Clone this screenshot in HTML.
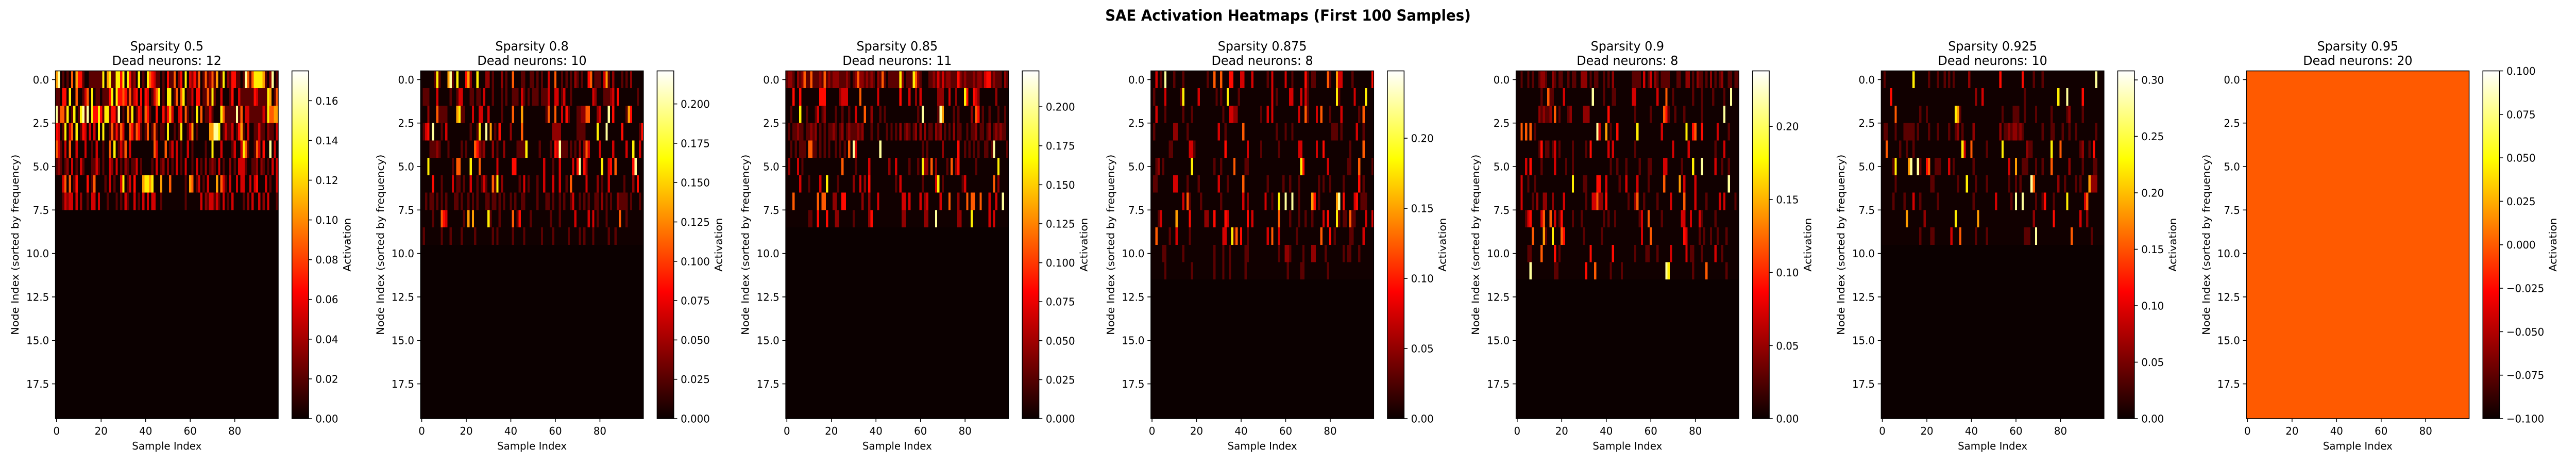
<!DOCTYPE html>
<html><head><meta charset="utf-8"><style>
html,body{margin:0;padding:0;background:#fff;width:100%;height:100%;overflow:hidden;}
svg{display:block;width:100vw;height:100vh;font-family:"DejaVu Sans","Liberation Sans",sans-serif;}
</style></head><body>
<svg id="fig" viewBox="0 0 5250 900" preserveAspectRatio="none" xmlns="http://www.w3.org/2000/svg">
<defs>
<linearGradient id="hotGrad" x1="0" y1="1" x2="0" y2="0">
<stop offset="0" stop-color="rgb(10,0,0)"/><stop offset="0.365079" stop-color="rgb(255,0,0)"/>
<stop offset="0.746032" stop-color="rgb(255,255,0)"/><stop offset="1" stop-color="rgb(255,255,255)"/>
</linearGradient>
</defs>
<text x="2625" y="40" text-anchor="middle" font-size="29" font-weight="bold">SAE Activation Heatmaps (First 100 Samples)</text>
</svg>
<script>
// ---- data ----
const sparsityLabels = ["0.5","0.8","0.85","0.875","0.9","0.925","0.95"];
const deadNeurons = [12,10,11,8,8,10,20];
const vmins = [0,0,0,0,0,0,-0.1];
const vmaxs = [0.175,0.221,0.223,0.248,0.238,0.308,0.1];
const cbTicks = [
  [0,0.02,0.04,0.06,0.08,0.10,0.12,0.14,0.16],
  [0,0.025,0.05,0.075,0.1,0.125,0.15,0.175,0.2],
  [0,0.025,0.05,0.075,0.1,0.125,0.15,0.175,0.2],
  [0,0.05,0.1,0.15,0.2],
  [0,0.05,0.1,0.15,0.2],
  [0,0.05,0.1,0.15,0.2,0.25,0.3],
  [-0.1,-0.075,-0.05,-0.025,0,0.025,0.05,0.075,0.1]
];
const cbDecimals = [2,3,3,2,2,2,3];
const yTickValues = [0,2.5,5,7.5,10,12.5,15,17.5];
const xTickValues = [0,20,40,60,80];
// activation level code per cell (digit -> fraction of vmax)
const levelFrac = [0,0.01,0.12,0.2,0.3,0.38,0.5,0.6,0.72,0.9];
const Z = "0000000000000000000000000000000000000000000000000000000000000000000000000000000000000000000000000000";

const p1Rows = [
["7912121617","5521122222","2817822885","8185231812","1865422121","5226135181","4352612623","6271281325","5221296268","8887213912"],
["2215518116","1124618122","1222581855","6526245151","5412468121","8812616812","2415512262","8211411125","1142222225","4222287126"],
["9266281281","2892918558","5288255291","2172812541","6521151152","5741145162","1218161224","2111862222","2926144222","2224286677"],
["5412814618","1254141418","1811262526","4116526521","2612621221","8112128112","4712111117","7998124224","1257214112","2422132214"],
["6421416114","1114112141","1211618124","2614111111","1111641116","1241412114","1211111211","8111411112","4114862112","6415119141"],
["2321231412","1421112242","1211431412","1321224121","1112141231","3121412141","1214121312","3214121131","2144421122","3132121414"],
["1114616125","1111512611","1121412114","8124151117","8878111711","1611111121","7612412141","1171642141","1414411414","5111412114"],
["1112434414","1311214414","1112111212","1421141214","1414411211","1111111121","1111141324","4242141214","1111213141","1413141112"],
Z,Z,Z,Z,Z,Z,Z,Z,Z,Z,Z,Z];

const p2Rows = [
["1111112821","1179218111","5731181113","3121113121","1611122112","2121211411","6112121213","2121156122","2147213111","2121311111"],
["1222111411","1112112441","1122122141","1121112121","1222142121","2221222411","4412411211","1111111431","1122234151","1111111211"],
["1113111622","2211117822","1114114411","4111112111","1611171111","1111112611","6114152111","2233661113","4111915111","1127511111"],
["1245191112","1411111111","1121128119","1712151111","3111161111","1111111113","3331111111","2222111118","1119111111","5111111125"],
["1111222321","1121111121","2111653231","1131211311","1112222811","1112111121","5492221212","1313641111","4111114111","1141181141"],
["1118111111","1111216611","1181116111","1111411111","1551111111","1111141112","1141111141","5915311111","1811451611","1111159111"],
["1111151112","1111412212","1141121242","1162813111","1111214121","1121141114","1141121611","1111411113","1211411111","1211131511"],
["1121221212","1211122121","1212121112","2122121211","2121122111","1121112212","1121211241","1212121122","1312121132","2221211121"],
["1111121116","5411111112","1717111111","8211121111","1612511112","1111111121","1121111114","1111141412","1112111116","1121111111"],
["1211111112","1112111121","1111211111","1121211111","1211112111","1111211112","1111112111","1212111211","1111211211","1111111111"],
Z,Z,Z,Z,Z,Z,Z,Z,Z,Z];

const p3Rows = [
["2332132362","2622232623","2333222321","2363323232","1326212222","2831222863","2111223242","4233222532","3222323324","5523222132"],
["1115115111","1111155511","1111344411","1116111111","1411111111","1511141131","4111111133","3114113111","8511543111","1111311111"],
["1121118112","1112412311","1121121121","1411161131","1121211111","1111111112","1911111129","7111121211","1113165121","1211121121"],
["1212232212","2323121212","2321231232","2232311121","1211121212","1312321231","3131221323","1212131221","1212231221","2312323221"],
["1121212221","6622121212","1121212161","9411111111","1191111111","1111111111","1212111111","3111111511","2121212112","2129111112"],
["1311141211","1111111111","1111161111","1211111411","1111113114","1111121112","1833161311","1121613511","1111121111","1111181111"],
["1111114111","2111141181","1112111111","3114131511","1111111112","1411111111","1211111481","2111111112","4111111111","1116131111"],
["1116111111","1111616611","1331155111","1111311311","1411111111","1144141111","4134111114","1116111311","1616611611","1411411911"],
["1111111111","2211511151","1133111111","2111111351","1111111111","1133111111","1133111911","1111111331","1118111111","1414111111"],
Z,Z,Z,Z,Z,Z,Z,Z,Z,Z,Z];

const p4Rows = [
["1141219111","2111211111","1111121161","1611155111","4411141111","1121411111","4112111115","2122111116","2117441111","2111111115"],
["1211114111","1112811111","1411111112","1211811112","1111111111","1111412111","1144111414","2111111111","1118211111","1411118111"],
["1141112111","1111211121","1111111111","1121144331","1111111112","1141411111","1111114116","2111416111","2111141111","1112161111"],
["1211111111","3311112111","1111111111","4112111111","1611111111","1111112111","2112111111","1111111111","1222121111","1141121111"],
["1111111122","1111111442","1111111111","1115111111","1114111112","1111111211","1111114411","1111411511","1111111112","1111161111"],
["1123121111","1111111181","1111111121","1211111611","1122111111","1111111111","1111111851","1111111114","1111111122","1116111112"],
["1221111111","4411112111","1211111111","4111211111","1611111111","1121111112","1121112111","1111121211","2111112111","1115121111"],
["1111111111","1111416211","1121111111","1211111111","1413111111","1411211811","9119112111","1175121111","1117915111","1451222111"],
["1112411111","1711111511","1111331151","1115411111","1115141111","1111111611","1121112112","1121111415","1118212216","2211114114"],
["1161111121","1411111211","1111111111","1144118261","5112111111","1141611411","1111121111","1111116111","5121111112","2111141111"],
["1111122111","1111211111","1111111121","1121121111","1122111111","1111111211","3321111121","1133111121","1111112122","1112111111"],
["1111112111","1111111121","1111111121","1121121111","1121111111","1111111111","1211111221","1111111112","1111111111","1111111111"],
Z,Z,Z,Z,Z,Z,Z,Z];

const p5Rows = [
["1121121211","2332113212","2112122113","3312122112","1213111111","1122221412","4132122221","1122113312","1322121312","1231122122"],
["1111111111","1211622111","1411111111","1111911112","1112211111","1144111111","1114111611","2111111112","1112111121","1112119111"],
["1111111111","3232231612","1112311111","3331111111","1511111111","1112111111","2111116521","1211121111","1112111111","1119111111"],
["1161616121","1111111111","1111111111","1111119411","7121151111","1111811111","1111141111","1111118115","6115111111","4111121111"],
["1111111111","2512212412","1111121111","1215111111","1414111111","1112111111","1111111111","4111111411","1111111112","1114111111"],
["1111415111","1211111411","1121121111","1111111111","1121121112","1111121112","2111114411","1111211118","1119111114","1121121111"],
["1141121121","1111111111","1111181111","2211115511","4111112114","1111411112","1111116111","1117141111","4111111111","1111191111"],
["1141111213","1133113111","1411111111","1211446331","5111111111","2113611211","1112111114","1111161111","4111121111","1414111121"],
["1111245111","1461161412","5111121112","1111111112","1211211111","1111124116","1111121111","1111441141","1142111112","1111111111"],
["1111111611","1172118111","6511111111","2111111121","1111111111","1111114111","6111111111","1111154111","1121211211","2111211111"],
["1111122111","1611111512","1111111111","1115111111","1115111111","1112111122","1112111114","1111114122","1112111114","1121111111"],
["1111119111","1111111221","1111111111","1511161111","1121111211","1111111111","1111111981","1111111112","1111161111","1111211111"],
Z,Z,Z,Z,Z,Z,Z,Z];

const p6Rows = [
["1211111111","1111811111","1211121121","2121111113","1111111111","1115111111","1115111121","1121111111","1111111111","1111119111"],
["1111511111","1111111111","1111111111","1111111111","1131141111","1111111111","1111211111","1111111118","1119111111","5111111111"],
["1111116111","1111111211","2111111111","1118721111","1111111111","1111211112","2211211112","1111112111","1112311111","2111111111"],
["1221112111","2222212111","1211121111","2112312111","1311111111","1113122323","3232111111","1121112211","1211211211","1111112111"],
["1161111121","1211211111","1111111111","1111118411","6111111211","1111811111","1111132211","1111118111","6111111112","3112151111"],
["1111128111","1179119211","5611222111","4121111111","1211111111","1111111411","7112221112","1121116111","1111311111","2111122111"],
["1111112111","1111111111","1122111111","1111211181","1121111211","1111111211","2121111961","1111111113","1121111212","1117333111"],
["1111121111","2111411211","1111121111","1111111111","1211111111","1411111121","9119111112","1125111211","1118111111","1461111111"],
["1111111111","1711111113","1111111111","1118111111","1117111111","1111111111","1111111131","1111111511","1111111114","1131111111"],
["1111111111","1111111211","1122111111","1411161111","1121111211","1111111111","1111222119","1111111111","1111161111","1111211111"],
Z,Z,Z,Z,Z,Z,Z,Z,Z,Z];

const p7Rows = [Z,Z,Z,Z,Z,Z,Z,Z,Z,Z,Z,Z,Z,Z,Z,Z,Z,Z,Z,Z];

const panelRows = [p1Rows,p2Rows,p3Rows,p4Rows,p5Rows,p6Rows,p7Rows];

// ---- layout ----
const NS = "http://www.w3.org/2000/svg";
const svg = document.getElementById("fig");
const FS = 20.8;
const TOP = 137.5, H = 674.5, W = 454, NROWS = 20, NCOLS = 100;
function panelLeft(k){ return 113 + 744.2*k; }

function hot(t){
  t = Math.max(0, Math.min(1, t));
  const a = 0.365079, b = 0.746032;
  const r = t < a ? 0.0416 + (t/a)*(1-0.0416) : 1;
  const g = t < a ? 0 : (t < b ? (t-a)/(b-a) : 1);
  const bl = t < b ? 0 : (t-b)/(1-b);
  return "rgb(" + Math.round(r*255) + "," + Math.round(g*255) + "," + Math.round(bl*255) + ")";
}
function mk(tag, attrs, parent){
  const e = document.createElementNS(NS, tag);
  for (const k in attrs) e.setAttribute(k, attrs[k]);
  (parent || svg).appendChild(e);
  return e;
}
function txt(str, attrs, parent){ const e = mk("text", attrs, parent); e.textContent = str; return e; }
function labelWidth(s){ let w = 0; for (const c of s){ w += c === "." ? 0.318 : (c === "\u2212" ? 0.838 : 0.636); } return w*FS; }
function fmt(v, d){ const s = Math.abs(v).toFixed(d); return (v < 0 ? "\u2212" : "") + s; }

for (let k = 0; k < 7; k++){
  const L = panelLeft(k);
  const g = mk("g", {});
  
  
  const xScale = c => L + c * (W / NCOLS);
  const yScale = r => TOP + r * (H / NROWS);
  const rows = panelRows[k];
  const vmin = vmins[k], vmax = vmaxs[k];
  const cells = mk("g", {"shape-rendering":"crispEdges"}, g);
  
  
  for (let r = 0; r < NROWS; r++){
    const rowStr = Array.isArray(rows[r]) ? rows[r].join("") : rows[r];
    for (let c = 0; c < NCOLS; c++){
      const d = parseInt(rowStr[c] || "0", 10);
      const value = (k === 6) ? 0 : levelFrac[d] * vmax;
      const t = (value - vmin) / (vmax - vmin);
      const x0 = xScale(c), x1 = xScale(c+1), y0 = yScale(r), y1 = yScale(r+1);
      const rect = mk("rect", {x:x0.toFixed(2), y:y0.toFixed(2), width:(x1-x0+0.6).toFixed(2), height:(y1-y0+0.6).toFixed(2), fill:hot(t)}, cells);
      
      
    }
  }
  const frame = mk("rect", {x:L, y:TOP, width:W, height:H, fill:"none", stroke:"#000", "stroke-width":1.6}, g);
  
  
  const t1 = txt("Sparsity " + sparsityLabels[k], {x:L+W/2, y:98, "text-anchor":"middle", "font-size":25}, g);
  
  
  const t2 = txt("Dead neurons: " + deadNeurons[k], {x:L+W/2, y:126, "text-anchor":"middle", "font-size":25}, g);
  
  
  for (const v of yTickValues){
    const y = yScale(v + 0.5);
    const tk = mk("line", {x1:L, x2:L-7, y1:y, y2:y, stroke:"#000", "stroke-width":1.6}, g);
    
    
    const tl = txt(v.toFixed(1), {x:L-13, y:y+7.5, "text-anchor":"end", "font-size":FS}, g);
    
    
  }
  for (const v of xTickValues){
    const x = xScale(v + 0.5);
    const tk = mk("line", {x1:x, x2:x, y1:TOP+H, y2:TOP+H+7, stroke:"#000", "stroke-width":1.6}, g);
    
    
    const tl = txt(String(v), {x:x, y:843, "text-anchor":"middle", "font-size":FS}, g);
    
    
  }
  const xl = txt("Sample Index", {x:L+W/2, y:872, "text-anchor":"middle", "font-size":FS}, g);
  
  
  const yl = txt("Node Index (sorted by frequency)", {x:0, y:0, "text-anchor":"middle", "font-size":FS, transform:"translate(" + (L-75) + "," + (TOP+H/2) + ") rotate(-90)"}, g);
  
  
  const cbX = L + 482, cbW = 34;
  const cb = mk("rect", {x:cbX, y:TOP, width:cbW, height:H, fill:"url(#hotGrad)", stroke:"#000", "stroke-width":1.6}, g);
  
  
  let maxW = 0;
  for (const v of cbTicks[k]){
    const y = TOP + H - (v - vmin)/(vmax - vmin) * H;
    const tk = mk("line", {x1:cbX+cbW, x2:cbX+cbW+7, y1:y, y2:y, stroke:"#000", "stroke-width":1.6}, g);
    
    
    const s = fmt(v, cbDecimals[k]);
    maxW = Math.max(maxW, labelWidth(s));
    const tl = txt(s, {x:cbX+cbW+14, y:y+7.5, "text-anchor":"start", "font-size":FS}, g);
    
    
  }
  const ax = cbX + cbW + 14 + maxW + 8 + 17;
  const al = txt("Activation", {x:0, y:0, "text-anchor":"middle", "font-size":FS, transform:"translate(" + ax + "," + (TOP+H/2) + ") rotate(-90)"}, g);
  
  
}
</script>
</body></html>
